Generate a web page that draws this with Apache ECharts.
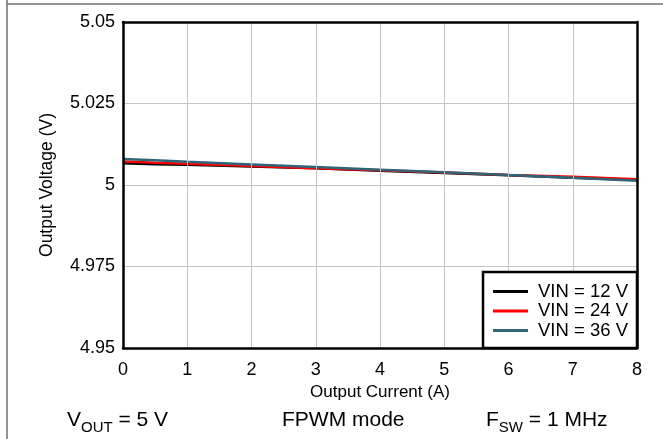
<!DOCTYPE html>
<html>
<head>
<meta charset="utf-8">
<script src="https://cdn.jsdelivr.net/npm/echarts@6/dist/echarts.min.js"></script>
<style>
html,body{margin:0;padding:0;background:#fff;}
#chart{width:663px;height:439px;}
</style>
</head>
<body>
<div id="chart"></div>
<script>
var currents = [0, 0.5, 1, 2, 3, 4, 5, 6, 7, 8];
var vin12 = [5.0067, 5.0064, 5.0062, 5.0057, 5.0051, 5.0044, 5.0037, 5.0030, 5.0022, 5.0015];
var vin24 = [5.0072, 5.0068, 5.0065, 5.0058, 5.0051, 5.0045, 5.0038, 5.0031, 5.0025, 5.0018];
var vin36 = [5.0080, 5.0076, 5.0071, 5.0063, 5.0055, 5.0047, 5.0039, 5.0031, 5.0022, 5.0013];
var seriesNames = ['VIN = 12 V', 'VIN = 24 V', 'VIN = 36 V'];
var seriesColors = ['#000000', '#ff0000', '#306478'];

function pairs(xs, ys) { return xs.map(function (x, i) { return [x, ys[i]]; }); }

var chart = echarts.init(document.getElementById('chart'), null, {renderer: 'canvas'});
var font = 'Liberation Sans, Arial, sans-serif';
var frameLine = {show: true, onZero: false, lineStyle: {color: '#000', width: 2.5}};
var gridLine = {show: true, lineStyle: {color: '#c4c4c4', width: 1}};
var option = {
  animation: false,
  backgroundColor: '#ffffff',
  textStyle: {fontFamily: font},
  grid: {left: 123, right: 26, top: 22, bottom: 91, containLabel: false},
  xAxis: [{
    type: 'value', min: 0, max: 8, interval: 1, position: 'bottom',
    name: 'Output Current (A)', nameLocation: 'middle', nameGap: 28,
    nameTextStyle: {fontSize: 17, color: '#000', fontFamily: font},
    axisLine: frameLine, axisTick: {show: false},
    axisLabel: {fontSize: 18, color: '#000', margin: 13, fontFamily: font},
    splitLine: gridLine, z: 5
  }, {
    type: 'value', min: 0, max: 8, interval: 1, position: 'top',
    axisLine: frameLine, axisTick: {show: false}, axisLabel: {show: false},
    splitLine: {show: false}, z: 5
  }],
  yAxis: [{
    type: 'value', min: 4.95, max: 5.05, interval: 0.025, position: 'left',
    name: 'Output Voltage (V)', nameLocation: 'middle', nameGap: 67,
    nameTextStyle: {fontSize: 17.5, color: '#000', fontFamily: font},
    axisLine: frameLine, axisTick: {show: false},
    axisLabel: {fontSize: 18, color: '#000', margin: 8, fontFamily: font,
      formatter: function (v) { return String(parseFloat(v.toFixed(3))); }},
    splitLine: gridLine, z: 5
  }, {
    type: 'value', min: 4.95, max: 5.05, interval: 0.025, position: 'right',
    axisLine: frameLine, axisTick: {show: false}, axisLabel: {show: false},
    splitLine: {show: false}, z: 5
  }],
  legend: {
    orient: 'vertical', right: 26, bottom: 91,
    data: seriesNames,
    backgroundColor: '#fff', borderColor: '#000', borderWidth: 2.5,
    padding: [10, 9, 8, 10], itemGap: 0.5,
    itemWidth: 35, itemHeight: 3, icon: 'rect',
    textStyle: {fontSize: 18.5, color: '#000', fontFamily: font, padding: [0, 0, 0, 5]},
    z: 10
  },
  series: [0, 1, 2].map(function (i) {
    return {
      name: seriesNames[i], type: 'line', showSymbol: false, symbol: 'none',
      data: pairs(currents, [vin12, vin24, vin36][i]),
      lineStyle: {color: seriesColors[i], width: 2.5},
      itemStyle: {color: seriesColors[i]}, z: 2 + i
    };
  }),
  graphic: [
    {type: 'line', shape: {x1: 7, y1: 0, x2: 7, y2: 439}, style: {stroke: '#707070', lineWidth: 1.5}},
    {type: 'line', shape: {x1: 7, y1: 4, x2: 663, y2: 4}, style: {stroke: '#707070', lineWidth: 1.5}},
    {type: 'text', left: 67, top: 410, style: {
      text: '{m|V}{s|OUT}{m| = 5 V}', rich: {
        m: {fontSize: 21, fontFamily: font, fill: '#000'},
        s: {fontSize: 15, fontFamily: font, fill: '#000', verticalAlign: 'bottom', padding: [0, 0, -4, 0]}
      }}},
    {type: 'text', left: 282, top: 410, style: {text: 'FPWM mode', fontSize: 21, fontFamily: font, fill: '#000'}},
    {type: 'text', left: 486, top: 410, style: {
      text: '{m|F}{s|SW}{m| = 1 MHz}', rich: {
        m: {fontSize: 21, fontFamily: font, fill: '#000'},
        s: {fontSize: 15, fontFamily: font, fill: '#000', verticalAlign: 'bottom', padding: [0, 0, -4, 0]}
      }}}
  ]
};
chart.setOption(option);
</script>
</body>
</html>
